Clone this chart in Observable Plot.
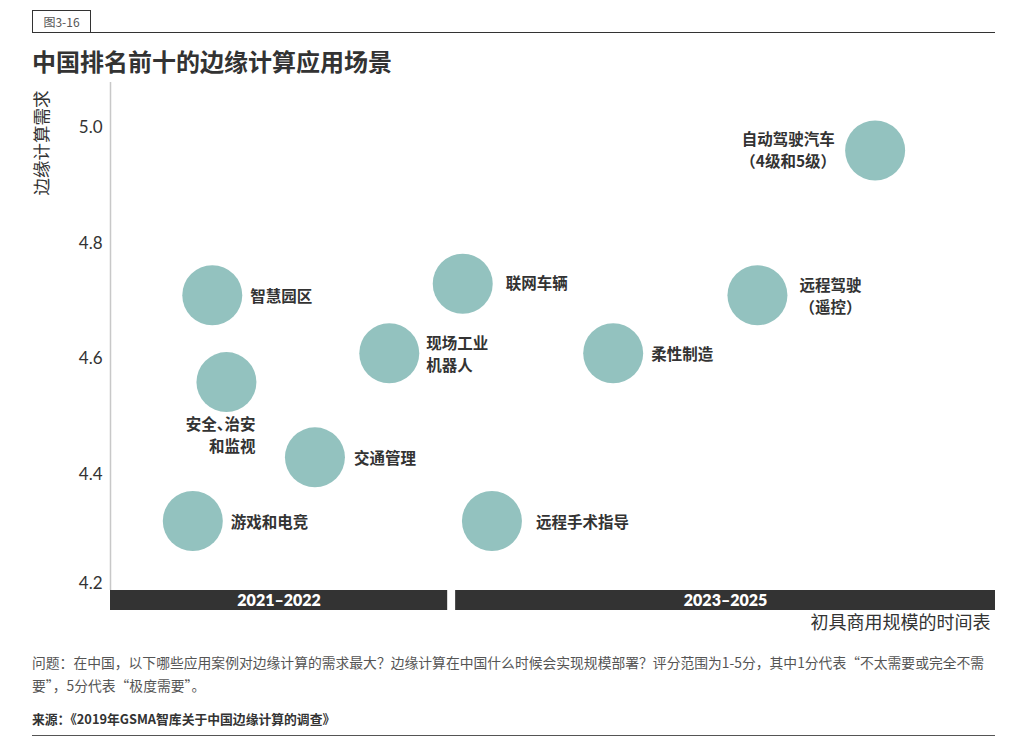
<!DOCTYPE html>
<html>
<head>
<meta charset="utf-8">
<script src="https://cdn.jsdelivr.net/npm/d3@7"></script>
<script src="https://cdn.jsdelivr.net/npm/@observablehq/plot@0.6"></script>
<style>
  body { margin: 0; background: #fff; font-family: "Noto Sans CJK SC", "Noto Sans", sans-serif; color: #333; }
  #wrap { position: relative; width: 1025px; }
  #header { position: relative; height: 82px; }
  #figno { position: absolute; left: 32px; top: 10px; width: 57px; height: 22px; border: 1px solid #333; border-bottom: none; font-size: 12px; line-height: 22px; color: #555; text-align: center; box-sizing: content-box; }
  #hline { position: absolute; left: 32px; top: 32px; width: 963px; height: 0; border-top: 1px solid #333; }
  #title { position: absolute; left: 32px; top: 45px; font-size: 24px; font-weight: 700; line-height: 32px; color: #333; }
  #chart svg { display: block; }
  #note { margin: 9px 0 0 32px; width: 963px; font-size: 13.8px; line-height: 23px; color: #555; white-space: nowrap; }
  #source { margin: 12px 0 0 32px; font-size: 12.8px; font-weight: 700; color: #333; line-height: 20px; }
  #bline { margin: 6px 0 0 32px; width: 963px; border-top: 1.5px solid #555; }
</style>
</head>
<body>
<div id="wrap">
  <div id="header">
    <div id="figno">图3-16</div>
    <div id="hline"></div>
    <div id="title">中国排名前十的边缘计算应用场景</div>
  </div>
  <div id="chart"></div>
  <div id="note">问题：在中国，以下哪些应用案例对边缘计算的需求最大？边缘计算在中国什么时候会实现规模部署？评分范围为1-5分，其中1分代表“不太需要或完全不需<br>要”，5分代表“极度需要”。</div>
  <div id="source">来源：《2019年GSMA智库关于中国边缘计算的调查》</div>
  <div id="bline"></div>
</div>
<script>
// ---- data ----
const names = ["自动驾驶汽车\n（4级和5级）", "智慧园区", "联网车辆", "远程驾驶\n（遥控）", "现场工业\n机器人", "柔性制造", "安全、治安\n和监视", "交通管理", "游戏和电竞", "远程手术指导"];
const timing = [86.4, 11.5, 39.8, 73.1, 31.5, 56.8, 13.1, 23.1, 9.3, 43.1];   // relative position on the timeline
const demand = [4.96, 4.71, 4.73, 4.71, 4.61, 4.61, 4.56, 4.43, 4.32, 4.32];
const periods = ["2021–2022", "2023–2025"];
const periodStart = [0, 39];
const periodEnd = [38.1, 100];
const yTicks = [4.2, 4.4, 4.6, 4.8, 5.0];
const yLabel = "边缘计算需求";
const xLabel = "初具商用规模的时间表";

// ---- label layout (styling) ----
const labelLayout = {
  "自动驾驶汽车\n（4级和5级）": {dx: -87, dy: -2, anchor: "middle"},
  "智慧园区": {dx: 38, dy: 0, anchor: "start"},
  "联网车辆": {dx: 43, dy: -2, anchor: "start"},
  "远程驾驶\n（遥控）": {dx: 73, dy: 0, anchor: "middle"},
  "现场工业\n机器人": {dx: 37, dy: 0, anchor: "start"},
  "柔性制造": {dx: 38, dy: 0, anchor: "start"},
  "安全、治安\n和监视": {dx: 29, dy: 52, anchor: "end"},
  "交通管理": {dx: 39, dy: 0, anchor: "start"},
  "游戏和电竞": {dx: 38, dy: 0, anchor: "start"},
  "远程手术指导": {dx: 44, dy: 0, anchor: "start"}
};

const points = names.map((n, i) => ({name: n, t: timing[i], v: demand[i]}));
const bands = periods.map((p, i) => ({label: p, x1: periodStart[i], x2: periodEnd[i]}));

const labelMarks = points.map(p => {
  const L = labelLayout[p.name];
  return Plot.text([p], {
    x: "t", y: "v", text: "name", dx: L.dx, dy: L.dy, textAnchor: L.anchor,
    lineAnchor: "middle", lineHeight: 1.42, fontSize: 15.5, fontWeight: 700, fill: "#333"
  });
});

const chart = Plot.plot({
  width: 1025,
  height: 560,
  marginLeft: 110,
  marginRight: 30,
  marginTop: 0,
  marginBottom: 52,
  style: {fontFamily: "'Noto Sans CJK SC', 'Noto Sans', sans-serif", color: "#333", background: "#fff"},
  x: {domain: [0, 100], axis: null},
  y: {domain: [4.2, 5.0776], axis: null, label: null},
  marks: [
    Plot.ruleX([0], {stroke: "#c8c8c8", strokeWidth: 1.5}),
    Plot.axisY(yTicks.filter(d => d > 4.2), {label: null, tickSize: 0, tickPadding: 8, tickFormat: d3.format(".1f"), fontSize: 17, fontFamily: "Lato, sans-serif", fill: "#333"}),
    Plot.axisY(yTicks.filter(d => d <= 4.2), {label: null, tickSize: 0, tickPadding: 8, tickFormat: d3.format(".1f"), fontSize: 17, fontFamily: "Lato, sans-serif", fill: "#333", dy: -7}),
    Plot.text([yLabel], {frameAnchor: "top-left", dx: -68, dy: 8, rotate: -90, textAnchor: "end", lineAnchor: "middle", fontSize: 17.5, fill: "#333"}),
    Plot.rect(bands, {x1: "x1", x2: "x2", y1: 4.2, y2: 4.2, insetBottom: -20, fill: "#333"}),
    Plot.text(bands, {x: d => (d.x1 + d.x2) / 2, y: 4.2, text: "label", dy: 10, fill: "#fff", fontWeight: 800, fontSize: 16, fontFamily: "Lato, sans-serif"}),
    Plot.text([xLabel], {frameAnchor: "bottom-right", dx: -5, dy: 38, textAnchor: "end", fontSize: 18, fill: "#333"}),
    Plot.dot(points, {x: "t", y: "v", r: 30, fill: "#93c2bf", stroke: "none"}),
    ...labelMarks
  ]
});
d3.select(chart).selectAll("text").filter(function () { return this.textContent.includes("、"); })
  .style("font-feature-settings", '"halt"');
document.getElementById("chart").appendChild(chart);
</script>
</body>
</html>
